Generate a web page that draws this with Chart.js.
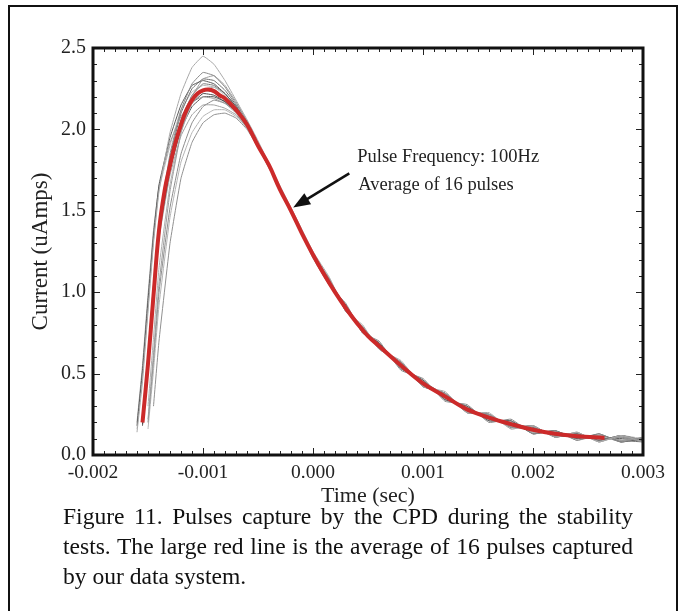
<!DOCTYPE html>
<html>
<head>
<meta charset="utf-8">
<script src="https://cdn.jsdelivr.net/npm/chart.js@4.4.0/dist/chart.umd.min.js"></script>
<style>
  html, body { margin: 0; padding: 0; background: #fff; }
  body { width: 686px; height: 611px; position: relative; overflow: hidden; font-family: "Liberation Serif", "DejaVu Serif", serif; }
  #frame { position: absolute; left: 8px; top: 5px; width: 666px; height: 640px; border: 2px solid #111; }
  #wrap { position: absolute; left: 0; top: 0; width: 686px; height: 515px; }
  #caption { position: absolute; left: 63px; top: 501px; width: 570px; font-size: 24px; line-height: 30px; color: #111; }
  #caption .j { text-align: justify; text-align-last: justify; white-space: nowrap; }
</style>
</head>
<body>
<div id="frame"></div>
<div id="wrap"><canvas id="pulseChart" width="686" height="515"></canvas></div>
<div id="caption"></div>
<script>
// time grid (sec) shared by the 16 captured pulses
const pulseTime = [-0.00160, -0.00155, -0.00150, -0.00145, -0.00140, -0.00130, -0.00120, -0.00110,
  -0.00100, -0.00090, -0.00080, -0.00070, -0.00060, -0.00050, -0.00035, -0.00020,
  0.00000, 0.00015, 0.00030, 0.00045, 0.00060, 0.00080, 0.00100, 0.00120, 0.00140,
  0.00160, 0.00180, 0.00200, 0.00220, 0.00240, 0.00260, 0.00280, 0.00300];

// current (uAmps) of each pulse
const pulse01 = [0.14, 0.45, 0.88, 1.30, 1.62, 1.98, 2.22, 2.38, 2.45, 2.40, 2.30, 2.18, 2.06, 1.93, 1.72, 1.52,
  1.25, 1.09, 0.88, 0.80, 0.65, 0.58, 0.42, 0.39, 0.26, 0.26, 0.16, 0.18, 0.11, 0.14, 0.08, 0.12, 0.08];
const pulse02 = [null, 0.25, 0.62, 1.05, 1.42, 1.85, 2.12, 2.28, 2.35, 2.33, 2.26, 2.16, 2.05, 1.92, 1.71, 1.51,
  1.21, 1.04, 0.93, 0.75, 0.70, 0.52, 0.47, 0.33, 0.31, 0.20, 0.22, 0.13, 0.15, 0.09, 0.13, 0.08, 0.11];
const pulse03 = [null, null, 0.22, 0.62, 1.05, 1.62, 1.98, 2.20, 2.31, 2.33, 2.27, 2.17, 2.05, 1.91, 1.70, 1.50,
  1.24, 1.08, 0.88, 0.79, 0.65, 0.57, 0.42, 0.38, 0.26, 0.25, 0.17, 0.18, 0.11, 0.14, 0.08, 0.12, 0.09];
const pulse04 = [0.18, 0.52, 0.95, 1.35, 1.66, 1.95, 2.15, 2.27, 2.30, 2.28, 2.22, 2.14, 2.04, 1.91, 1.70, 1.49,
  1.22, 1.05, 0.92, 0.75, 0.69, 0.53, 0.46, 0.34, 0.30, 0.21, 0.21, 0.13, 0.15, 0.10, 0.13, 0.08, 0.10];
const pulse05 = [null, 0.22, 0.58, 1.00, 1.40, 1.80, 2.06, 2.21, 2.28, 2.27, 2.22, 2.14, 2.03, 1.90, 1.71, 1.50,
  1.24, 1.07, 0.89, 0.79, 0.66, 0.57, 0.43, 0.38, 0.27, 0.25, 0.17, 0.17, 0.11, 0.13, 0.09, 0.12, 0.08];
const pulse06 = [null, null, 0.30, 0.72, 1.15, 1.66, 1.98, 2.16, 2.24, 2.26, 2.22, 2.14, 2.03, 1.90, 1.70, 1.50,
  1.22, 1.05, 0.92, 0.76, 0.69, 0.53, 0.46, 0.34, 0.30, 0.21, 0.21, 0.14, 0.15, 0.10, 0.12, 0.08, 0.11];
const pulse07 = [null, 0.18, 0.55, 0.97, 1.36, 1.76, 2.02, 2.16, 2.22, 2.21, 2.17, 2.11, 2.02, 1.90, 1.70, 1.49,
  1.23, 1.08, 0.88, 0.78, 0.66, 0.57, 0.42, 0.38, 0.26, 0.25, 0.17, 0.18, 0.11, 0.13, 0.09, 0.12, 0.09];
const pulse08 = [0.20, 0.55, 0.98, 1.38, 1.65, 1.92, 2.08, 2.17, 2.20, 2.19, 2.16, 2.10, 2.01, 1.89, 1.70, 1.50,
  1.22, 1.05, 0.92, 0.76, 0.69, 0.54, 0.46, 0.34, 0.30, 0.21, 0.21, 0.13, 0.15, 0.09, 0.12, 0.08, 0.10];
const pulse09 = [null, null, 0.20, 0.58, 1.00, 1.52, 1.85, 2.04, 2.14, 2.18, 2.16, 2.11, 2.02, 1.90, 1.70, 1.50,
  1.23, 1.07, 0.90, 0.78, 0.67, 0.56, 0.44, 0.37, 0.28, 0.24, 0.18, 0.17, 0.12, 0.13, 0.10, 0.11, 0.08];
const pulse10 = [null, 0.20, 0.56, 0.96, 1.33, 1.72, 1.96, 2.09, 2.15, 2.15, 2.13, 2.09, 2.01, 1.90, 1.70, 1.50,
  1.23, 1.06, 0.91, 0.76, 0.68, 0.54, 0.45, 0.35, 0.29, 0.22, 0.20, 0.14, 0.14, 0.10, 0.12, 0.09, 0.10];
const pulse11 = [null, null, 0.16, 0.52, 0.92, 1.46, 1.80, 1.98, 2.08, 2.12, 2.12, 2.08, 2.01, 1.90, 1.71, 1.50,
  1.24, 1.07, 0.89, 0.78, 0.66, 0.56, 0.43, 0.37, 0.27, 0.24, 0.17, 0.17, 0.12, 0.13, 0.09, 0.11, 0.09];
const pulse12 = [null, null, null, 0.30, 0.70, 1.30, 1.70, 1.92, 2.04, 2.09, 2.10, 2.07, 2.00, 1.89, 1.70, 1.50,
  1.22, 1.05, 0.91, 0.76, 0.68, 0.54, 0.45, 0.35, 0.29, 0.22, 0.20, 0.14, 0.14, 0.10, 0.12, 0.09, 0.10];
const pulse13 = [null, 0.21, 0.57, 0.99, 1.39, 1.79, 2.05, 2.19, 2.24, 2.23, 2.19, 2.12, 2.03, 1.90, 1.70, 1.50,
  1.22, 1.06, 0.90, 0.77, 0.67, 0.55, 0.44, 0.36, 0.28, 0.23, 0.19, 0.155, 0.13, 0.115, 0.10, 0.10, 0.09];
const pulse14 = [null, 0.24, 0.60, 1.02, 1.41, 1.83, 2.10, 2.25, 2.31, 2.30, 2.24, 2.15, 2.04, 1.91, 1.71, 1.50,
  1.23, 1.07, 0.91, 0.78, 0.68, 0.54, 0.45, 0.37, 0.27, 0.24, 0.18, 0.15, 0.14, 0.12, 0.11, 0.09, 0.08];
const pulse15 = [null, 0.19, 0.54, 0.95, 1.35, 1.75, 2.00, 2.14, 2.20, 2.20, 2.17, 2.11, 2.02, 1.90, 1.70, 1.50,
  1.24, 1.05, 0.90, 0.76, 0.66, 0.56, 0.44, 0.35, 0.29, 0.22, 0.20, 0.16, 0.12, 0.11, 0.10, 0.11, 0.09];
const pulse16 = [0.16, 0.48, 0.90, 1.32, 1.63, 1.90, 2.12, 2.23, 2.27, 2.26, 2.21, 2.13, 2.03, 1.90, 1.70, 1.50,
  1.21, 1.08, 0.88, 0.79, 0.65, 0.57, 0.42, 0.38, 0.26, 0.25, 0.16, 0.18, 0.11, 0.14, 0.08, 0.12, 0.10];

// average of the 16 pulses
const avgTime = [-0.00155, -0.00150, -0.00145, -0.00140, -0.00135, -0.00130, -0.00125, -0.00120,
  -0.00115, -0.00110, -0.00105, -0.00100, -0.00095, -0.00090, -0.00085, -0.00080, -0.00070,
  -0.00060, -0.00050, -0.00040, -0.00030, -0.00020, -0.00010, 0.00000, 0.00010, 0.00020,
  0.00030, 0.00040, 0.00050, 0.00060, 0.00080, 0.00100, 0.00120, 0.00140, 0.00160, 0.00180,
  0.00200, 0.00220, 0.00240, 0.00265];
const avgCurrent = [0.20, 0.56, 0.98, 1.38, 1.62, 1.78, 1.92, 2.03, 2.12, 2.18, 2.22, 2.24,
  2.245, 2.235, 2.21, 2.19, 2.12, 2.03, 1.90, 1.78, 1.63, 1.50, 1.36, 1.23, 1.11, 1.00, 0.90,
  0.81, 0.73, 0.67, 0.55, 0.44, 0.36, 0.28, 0.23, 0.19, 0.155, 0.13, 0.115, 0.105];

const xTickValues = [-0.002, -0.001, 0.000, 0.001, 0.002, 0.003];
const yTickValues = [0.0, 0.5, 1.0, 1.5, 2.0, 2.5];
const noteLines = ["Pulse Frequency: 100Hz", "Average of 16 pulses"];
const captionLines = [
  "Figure 11. Pulses capture by the CPD during the stability",
  "tests. The large red line is the average of 16 pulses captured",
  "by our data system."
];

const pulses = [pulse01, pulse02, pulse03, pulse04, pulse05, pulse06, pulse07, pulse08,
  pulse09, pulse10, pulse11, pulse12, pulse13, pulse14, pulse15, pulse16];
const grays = ["#a8a8a8", "#8a8a8a", "#9c9c9c", "#5a5a5a", "#7a7a7a", "#b0b0b0", "#4a4a4a", "#9a9a9a",
  "#8c8c8c", "#a0a0a0", "#b4b4b4", "#909090", "#3c3c3c", "#6e6e6e", "#555555", "#bcbcbc"];

const serif = "'Liberation Serif', 'DejaVu Serif', serif";

// caption: size the font so the justified lines fill the column
const cap = document.getElementById("caption");
const mctx = document.createElement("canvas").getContext("2d");
mctx.font = "20px " + serif;
const capSize = 20 * 562 / mctx.measureText(captionLines[1]).width;
cap.style.fontSize = capSize.toFixed(2) + "px";
captionLines.forEach((t, i) => {
  const d = document.createElement("div");
  if (i < 2) d.className = "j";
  d.textContent = t;
  cap.appendChild(d);
});

const datasets = [{
  label: "average",
  data: avgTime.map((t, i) => ({ x: t, y: avgCurrent[i] })),
  borderColor: "#cc2a2a",
  borderWidth: 4,
  pointRadius: 0,
  tension: 0.4,
  fill: false,
  order: 0
}];
pulses.forEach((p, k) => datasets.push({
  label: "pulse " + (k + 1),
  data: pulseTime.map((t, i) => ({ x: t, y: p[i] })).filter(d => d.y !== null),
  borderColor: grays[k],
  borderWidth: 1,
  pointRadius: 0,
  tension: 0.1,
  fill: false,
  order: 1
}));

// inward ticks on all four sides, thick frame and the arrow note
const framePlugin = {
  id: "frame",
  afterDatasetsDraw(chart) {
    const { ctx, chartArea: a, scales: { x, y } } = chart;
    ctx.save();
    ctx.strokeStyle = "#222";
    ctx.lineWidth = 1;
    ctx.beginPath();
    for (let i = 0; i <= 50; i++) {
      const px = Math.round(x.getPixelForValue(-0.002 + i * 0.0001)) + 0.5;
      const len = i % 10 === 0 ? 7 : 4;
      ctx.moveTo(px, a.bottom); ctx.lineTo(px, a.bottom - len);
      ctx.moveTo(px, a.top); ctx.lineTo(px, a.top + len);
    }
    for (let i = 0; i <= 25; i++) {
      const py = Math.round(y.getPixelForValue(i * 0.1)) + 0.5;
      const len = i % 5 === 0 ? 7 : 4;
      ctx.moveTo(a.left, py); ctx.lineTo(a.left + len, py);
      ctx.moveTo(a.right, py); ctx.lineTo(a.right - len, py);
    }
    ctx.stroke();

    ctx.lineWidth = 3;
    ctx.strokeStyle = "#111";
    ctx.strokeRect(a.left, a.top, a.right - a.left, a.bottom - a.top);

    // note text
    ctx.fillStyle = "#222";
    ctx.font = "18.5px " + serif;
    ctx.textBaseline = "middle";
    ctx.fillText(noteLines[0], x.getPixelForValue(0.000402), y.getPixelForValue(1.83));
    ctx.fillText(noteLines[1], x.getPixelForValue(0.000412), y.getPixelForValue(1.66));

    // arrow
    const x0 = x.getPixelForValue(0.00033), y0 = y.getPixelForValue(1.73);
    const x1 = x.getPixelForValue(-0.00018), y1 = y.getPixelForValue(1.52);
    const ang = Math.atan2(y1 - y0, x1 - x0);
    ctx.strokeStyle = "#111";
    ctx.fillStyle = "#111";
    ctx.lineWidth = 2.5;
    ctx.beginPath();
    ctx.moveTo(x0, y0);
    ctx.lineTo(x1 - 10 * Math.cos(ang), y1 - 10 * Math.sin(ang));
    ctx.stroke();
    ctx.beginPath();
    ctx.moveTo(x1, y1);
    ctx.lineTo(x1 - 17 * Math.cos(ang) + 6.5 * Math.sin(ang), y1 - 17 * Math.sin(ang) - 6.5 * Math.cos(ang));
    ctx.lineTo(x1 - 17 * Math.cos(ang) - 6.5 * Math.sin(ang), y1 - 17 * Math.sin(ang) + 6.5 * Math.cos(ang));
    ctx.closePath();
    ctx.fill();
    ctx.restore();
  }
};

new Chart(document.getElementById("pulseChart"), {
  type: "line",
  data: { datasets },
  options: {
    responsive: false,
    animation: false,
    layout: { padding: { top: 48, right: 43, left: 0, bottom: 0 } },
    plugins: { legend: { display: false }, tooltip: { enabled: false } },
    scales: {
      x: {
        type: "linear",
        min: -0.002,
        max: 0.003,
        afterFit: s => { s.height = 60; },
        afterBuildTicks: s => { s.ticks = xTickValues.map(v => ({ value: v })); },
        grid: { display: false, drawTicks: false },
        border: { display: false },
        ticks: {
          padding: 6,
          color: "#222",
          font: { family: serif, size: 19.5 },
          maxRotation: 0,
          callback: v => (Math.abs(v) < 1e-9 ? 0 : v).toFixed(3)
        },
        title: {
          display: true,
          text: "Time (sec)",
          color: "#222",
          font: { family: serif, size: 22 },
          padding: { top: 0, bottom: 6 }
        }
      },
      y: {
        min: 0,
        max: 2.5,
        afterFit: s => { s.width = 93; },
        afterBuildTicks: s => { s.ticks = yTickValues.map(v => ({ value: v })); },
        grid: { display: false, drawTicks: false },
        border: { display: false },
        ticks: {
          padding: 7,
          color: "#222",
          font: { family: serif, size: 20 },
          callback: v => v.toFixed(1)
        },
        title: {
          display: true,
          text: "Current (uAmps)",
          color: "#222",
          font: { family: serif, size: 23 },
          padding: { top: 27, bottom: 0 }
        }
      }
    }
  },
  plugins: [framePlugin]
});
</script>
</body>
</html>
